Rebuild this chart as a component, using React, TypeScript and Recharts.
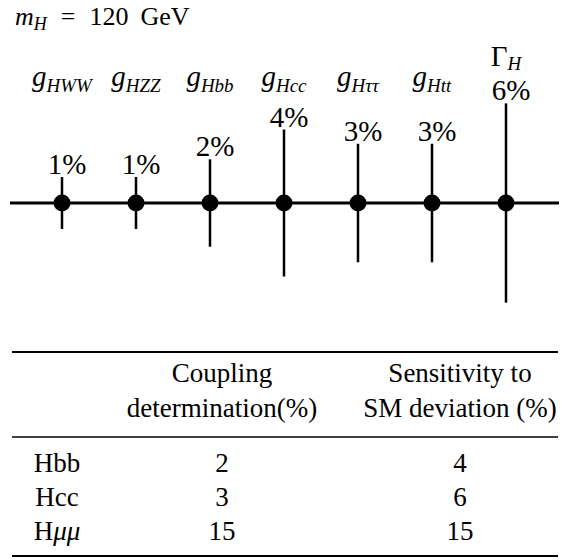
import { ComposedChart, Scatter, XAxis, YAxis, ErrorBar, ReferenceLine, LabelList } from 'recharts'

// coupling symbols, their subscripts and the expected precision (%)
const couplingSymbols = ['g', 'g', 'g', 'g', 'g', 'g', 'Γ']
const couplingSubs = ['HWW', 'HZZ', 'Hbb', 'Hcc', 'Hττ', 'Htt', 'H']
const precisionPct = [1, 1, 2, 4, 3, 3, 6]

// summary table
const tableChannels = ['Hbb', 'Hcc', 'Hμμ']
const couplingDetermination = [2, 3, 15]
const smDeviation = [4, 6, 15]
const tableHeaders = [
  ['Coupling', 'determination(%)'],
  ['Sensitivity to', 'SM deviation (%)'],
]

const SERIF = '"Liberation Serif", "Times New Roman", serif'

const rows = couplingSymbols.map((sym, i) => ({
  key: sym + couplingSubs[i],
  center: 0,
  err: precisionPct[i],
  top: precisionPct[i],
}))

// sign-preserving power scale (d3-style API) so the bars grow as err^0.75
function powScale(exponent: number, dom: number[] = [0, 1], rng: number[] = [0, 1]): any {
  const sp = (v: number) => Math.sign(v) * Math.pow(Math.abs(v), exponent)
  const inv = (v: number) => Math.sign(v) * Math.pow(Math.abs(v), 1 / exponent)
  const s: any = (v: number) => {
    const t = (sp(v) - sp(dom[0])) / (sp(dom[1]) - sp(dom[0]))
    return rng[0] + t * (rng[1] - rng[0])
  }
  s.domain = (d?: number[]) => (d ? ((dom = [...d]), s) : dom)
  s.range = (r?: number[]) => (r ? ((rng = [...r]), s) : rng)
  s.copy = () => powScale(exponent, dom, rng)
  s.invert = (px: number) => {
    const t = (px - rng[0]) / (rng[1] - rng[0])
    return inv(sp(dom[0]) + t * (sp(dom[1]) - sp(dom[0])))
  }
  s.ticks = () => [dom[0], 0, dom[1]]
  s.tickFormat = () => (v: number) => String(v)
  s.nice = () => s
  s.clamp = () => s
  return s
}

function CouplingTick(props: any) {
  const { x, y, payload } = props
  const i = payload.index
  const isWidth = couplingSymbols[i] === 'Γ'
  return (
    <text
      x={x}
      y={isWidth ? y - 18 : y + 2}
      textAnchor="middle"
      fontFamily={SERIF}
      fontSize={29}
      fill="#000"
    >
      <tspan fontStyle={isWidth ? 'normal' : 'italic'}>{couplingSymbols[i]}</tspan>
      <tspan fontStyle="italic" fontSize={19} dy={isWidth ? 4 : 6}>
        {couplingSubs[i]}
      </tspan>
    </text>
  )
}

function Dot(props: any) {
  const { cx, cy } = props
  return <circle cx={cx} cy={cy} r={8.5} fill="#000" />
}

function PctLabel(props: any) {
  const { x, y, width, height, value } = props
  const cx = x + width / 2
  const cy = y + height / 2
  return (
    <text x={cx + 5} y={cy - 3} textAnchor="middle" fontFamily={SERIF} fontSize={29} fill="#000">
      {value}%
    </text>
  )
}

function Channel({ name, x, y }: { name: string; x: number; y: number }) {
  return (
    <text x={x} y={y} textAnchor="middle" fontFamily={SERIF} fontSize={27}>
      {name.split('').map((ch, k) => (
        <tspan key={k} fontStyle={/[α-ω]/.test(ch) ? 'italic' : 'normal'}>
          {ch}
        </tspan>
      ))}
    </text>
  )
}

export default function App() {
  const colX = [57, 222, 460]
  const rowY = [472, 506, 540]
  return (
    <div style={{ position: 'absolute', left: 0, top: 0, width: 572, height: 560, background: '#fff' }}>
      <ComposedChart
        width={572}
        height={320}
        data={rows}
        margin={{ top: 0, right: 13, bottom: 0, left: 10 }}
      >
        <XAxis
          dataKey="key"
          type="category"
          scale="point"
          orientation="top"
          height={92}
          padding={{ left: 52, right: 53 }}
          axisLine={false}
          tickLine={false}
          interval={0}
          tick={<CouplingTick />}
        />
        <YAxis type="number" scale={powScale(0.75)} domain={[-7.43, 6.93]} hide allowDataOverflow />
        <ReferenceLine y={0} stroke="#000" strokeWidth={3} />
        <Scatter dataKey="center" isAnimationActive={false} shape={<Dot />}>
          <ErrorBar dataKey="err" direction="y" width={0} stroke="#000" strokeWidth={2.5} />
        </Scatter>
        <Scatter dataKey="top" isAnimationActive={false} shape={() => <g />}>
          <LabelList dataKey="top" content={<PctLabel />} />
        </Scatter>
      </ComposedChart>

      <svg
        width={572}
        height={560}
        style={{ position: 'absolute', left: 0, top: 0, pointerEvents: 'none' }}
      >
        <text x={15} y={25} fontFamily={SERIF} fontSize={26} fill="#000">
          <tspan fontStyle="italic">m</tspan>
          <tspan fontStyle="italic" fontSize={18} dy={5}>H</tspan>
          <tspan dx={14} dy={-5}>=</tspan>
          <tspan dx={14}>120</tspan>
          <tspan dx={12}>GeV</tspan>
        </text>

        <line x1={12} x2={558} y1={352} y2={352} stroke="#000" strokeWidth={2} />
        {tableHeaders.map((lines, c) =>
          lines.map((t, l) => (
            <text key={`${c}-${l}`} x={colX[c + 1]} y={382 + l * 35} textAnchor="middle" fontFamily={SERIF} fontSize={27}>
              {t}
            </text>
          ))
        )}
        <line x1={12} x2={558} y1={437} y2={437} stroke="#000" strokeWidth={1.3} />
        {tableChannels.map((ch, r) => (
          <g key={ch}>
            <Channel name={ch} x={colX[0]} y={rowY[r]} />
            <text x={colX[1]} y={rowY[r]} textAnchor="middle" fontFamily={SERIF} fontSize={27}>
              {couplingDetermination[r]}
            </text>
            <text x={colX[2]} y={rowY[r]} textAnchor="middle" fontFamily={SERIF} fontSize={27}>
              {smDeviation[r]}
            </text>
          </g>
        ))}
        <line x1={12} x2={558} y1={556} y2={556} stroke="#000" strokeWidth={2} />
      </svg>
    </div>
  )
}
